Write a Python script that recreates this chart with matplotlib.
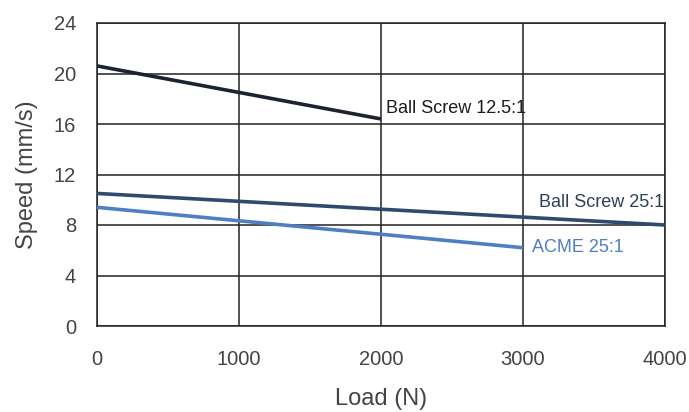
import matplotlib
matplotlib.use("Agg")
import matplotlib.pyplot as plt

plt.rcParams['font.family'] = ['Liberation Sans', 'DejaVu Sans']

load_bs125 = [0, 2000]
speed_bs125 = [20.6, 16.4]
load_bs25 = [0, 4000]
speed_bs25 = [10.5, 8.0]
load_acme = [0, 3000]
speed_acme = [9.4, 6.2]

x_ticks = [0, 1000, 2000, 3000, 4000]
y_ticks = [0, 4, 8, 12, 16, 20, 24]

fig = plt.figure(figsize=(6.89, 4.12), dpi=100)
ax = fig.add_axes([97/689, 1 - 326/412, (665-97)/689, (326-23)/412])

ax.plot(load_bs125, speed_bs125, color='#1c2230', lw=2.6, solid_capstyle='butt', zorder=3)
ax.plot(load_bs25, speed_bs25, color='#2f4a6e', lw=2.6, solid_capstyle='butt', zorder=3)
ax.plot(load_acme, speed_acme, color='#4f7fc0', lw=2.6, solid_capstyle='butt', zorder=3)

ax.set_xlim(0, 4000)
ax.set_ylim(0, 24)
ax.set_xticks(x_ticks)
ax.set_yticks(y_ticks)
ax.grid(True, color='#222222', lw=1.1)
for s in ax.spines.values():
    s.set_color('#222222')
    s.set_linewidth(1.1)
ax.tick_params(length=0, labelsize=14.5, labelcolor='#444444')
ax.tick_params(axis='x', pad=17)
ax.tick_params(axis='y', pad=15)

ax.set_xlabel('Load (N)', fontsize=17, color='#444444')
ax.set_ylabel('Speed (mm/s)', fontsize=17, color='#444444')
ax.xaxis.set_label_coords(0.5, (326 - 388) / 303)
ax.yaxis.set_label_coords((38 - 97) / 568, 0.5)

ax.text(2035, 17.2, 'Ball Screw 12.5:1', fontsize=13, color='#1c1c1c', ha='left', va='center')
ax.text(3995, 9.75, 'Ball Screw 25:1', fontsize=13, color='#2f3f58', ha='right', va='center')
ax.text(3063, 6.2, 'ACME 25:1', fontsize=13, color='#4f7fc0', ha='left', va='center')

fig.savefig('out.png', dpi=100)
